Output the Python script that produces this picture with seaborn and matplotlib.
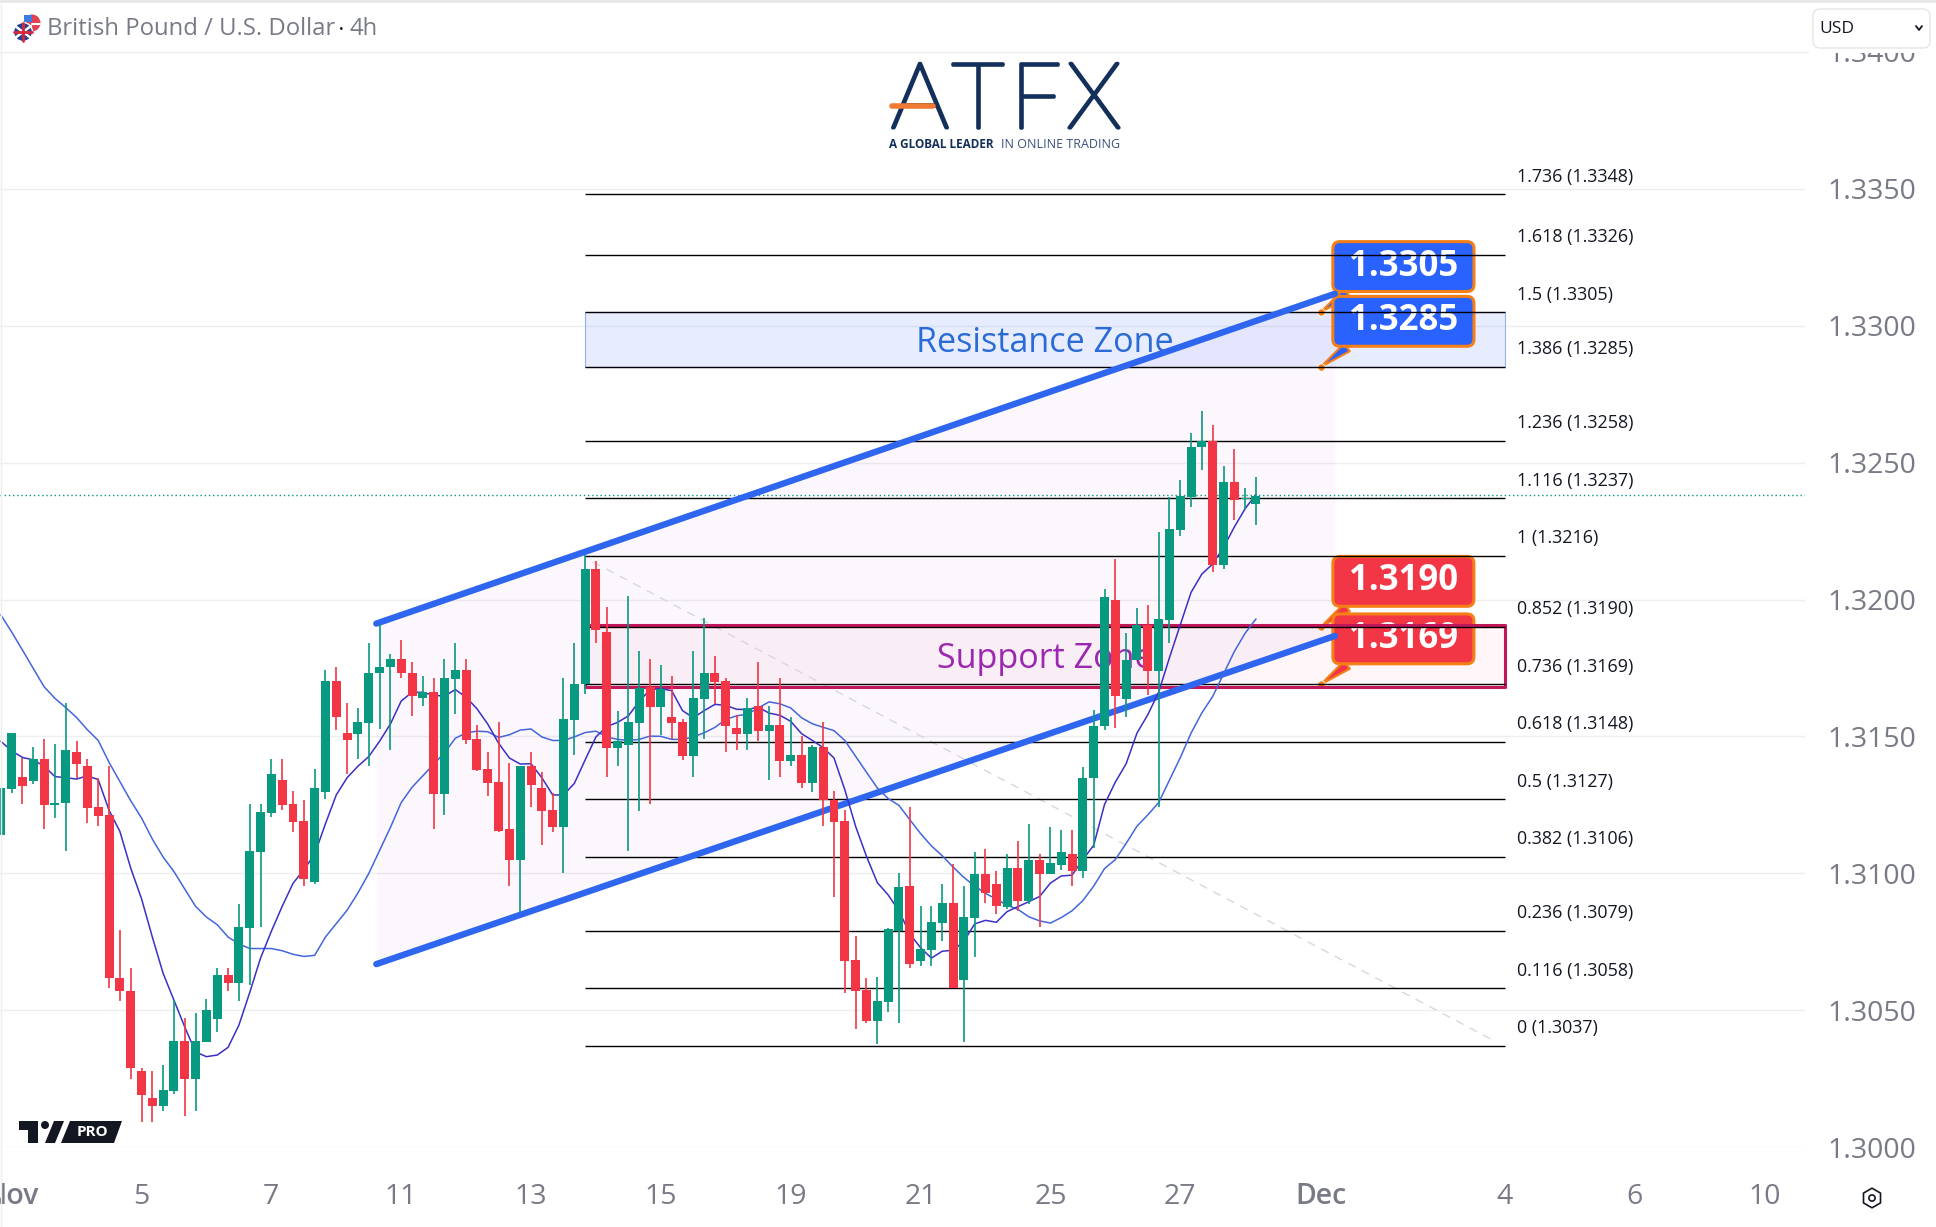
import matplotlib
matplotlib.use("Agg")
import matplotlib.patheffects as pe
import matplotlib.pyplot as plt
import pandas as pd
import seaborn as sns
from matplotlib.lines import Line2D
from matplotlib.patches import Circle, FancyBboxPatch, Polygon, Rectangle

# 4h candles, one entry per bar
body_top = [
    1.31311, 1.31513, 1.31351, 1.31419, 1.31419, 1.31258, 1.31450, 1.31442, 1.31392, 1.31241,
    1.31212, 1.30619, 1.30571, 1.30279, 1.30180, 1.30209, 1.30388, 1.30388, 1.30388, 1.30501,
    1.30630, 1.30630, 1.30802, 1.31080, 1.31223, 1.31363, 1.31340, 1.31252, 1.31190, 1.31311,
    1.31703, 1.31703, 1.31513, 1.31553, 1.31732, 1.31753, 1.31783, 1.31783, 1.31732, 1.31662,
    1.31662, 1.31713, 1.31742, 1.31742, 1.31490, 1.31381, 1.31333, 1.31162, 1.31391, 1.31391,
    1.31310, 1.31231, 1.31562, 1.31691, 1.32113, 1.32113, 1.31881, 1.31482, 1.31553, 1.31677,
    1.31680, 1.31674, 1.31569, 1.31553, 1.31640, 1.31731, 1.31731, 1.31701, 1.31531, 1.31604,
    1.31610, 1.31540, 1.31541, 1.31431, 1.31431, 1.31460, 1.31460, 1.31269, 1.31190, 1.30682,
    1.30572, 1.30532, 1.30795, 1.30951, 1.30953, 1.30722, 1.30821, 1.30891, 1.30890, 1.30841,
    1.30997, 1.30997, 1.30959, 1.31020, 1.31020, 1.31050, 1.31050, 1.31038, 1.31078, 1.31072,
    1.31348, 1.31538, 1.32009, 1.31999, 1.31778, 1.31908, 1.31908, 1.31930, 1.32257, 1.32378,
    1.32558, 1.32579, 1.32579, 1.32431, 1.32431, 1.32369, 1.32379,
]
body_bottom = [
    1.31139, 1.31307, 1.31318, 1.31336, 1.31251, 1.31251, 1.31258, 1.31399, 1.31239, 1.31209,
    1.30616, 1.30569, 1.30287, 1.30189, 1.30148, 1.30148, 1.30206, 1.30248, 1.30248, 1.30385,
    1.30466, 1.30598, 1.30598, 1.30799, 1.31078, 1.31220, 1.31251, 1.31188, 1.30979, 1.30968,
    1.31297, 1.31569, 1.31487, 1.31508, 1.31550, 1.31730, 1.31752, 1.31730, 1.31648, 1.31639,
    1.31290, 1.31290, 1.31711, 1.31487, 1.31377, 1.31330, 1.31155, 1.31049, 1.31049, 1.31321,
    1.31228, 1.31168, 1.31168, 1.31560, 1.31690, 1.31890, 1.31459, 1.31459, 1.31469, 1.31550,
    1.31608, 1.31608, 1.31550, 1.31430, 1.31430, 1.31637, 1.31700, 1.31539, 1.31509, 1.31509,
    1.31521, 1.31521, 1.31410, 1.31410, 1.31331, 1.31331, 1.31267, 1.31189, 1.30680, 1.30571,
    1.30460, 1.30460, 1.30529, 1.30790, 1.30669, 1.30680, 1.30721, 1.30818, 1.30580, 1.30610,
    1.30838, 1.30927, 1.30881, 1.30878, 1.30897, 1.30897, 1.30997, 1.30997, 1.31030, 1.31008,
    1.31008, 1.31348, 1.31537, 1.31647, 1.31635, 1.31778, 1.31738, 1.31738, 1.31926, 1.32255,
    1.32376, 1.32557, 1.32127, 1.32127, 1.32364, 1.32366, 1.32348,
]
wick_high = [
    1.31311, 1.31513, 1.31422, 1.31461, 1.31489, 1.31472, 1.31622, 1.31482, 1.31419, 1.31349,
    1.31391, 1.30791, 1.30653, 1.30288, 1.30277, 1.30301, 1.30536, 1.30470, 1.30491, 1.30539,
    1.30653, 1.30653, 1.30889, 1.31252, 1.31252, 1.31419, 1.31419, 1.31300, 1.31269, 1.31380,
    1.31741, 1.31752, 1.31622, 1.31604, 1.31842, 1.31909, 1.31801, 1.31853, 1.31772, 1.31720,
    1.31713, 1.31783, 1.31842, 1.31783, 1.31541, 1.31442, 1.31552, 1.31401, 1.31391, 1.31442,
    1.31369, 1.31292, 1.31713, 1.31841, 1.32162, 1.32141, 1.31972, 1.31592, 1.32013, 1.31812,
    1.31782, 1.31760, 1.31719, 1.31562, 1.31812, 1.31931, 1.31792, 1.31712, 1.31577, 1.31639,
    1.31771, 1.31610, 1.31713, 1.31571, 1.31501, 1.31470, 1.31551, 1.31299, 1.31231, 1.30771,
    1.30619, 1.30621, 1.30801, 1.31000, 1.31241, 1.30882, 1.30882, 1.30959, 1.31035, 1.30953,
    1.31079, 1.31090, 1.31010, 1.31072, 1.31119, 1.31181, 1.31072, 1.31169, 1.31158, 1.31158,
    1.31388, 1.31598, 1.32038, 1.32148, 1.31877, 1.31969, 1.31981, 1.32247, 1.32376, 1.32436,
    1.32610, 1.32689, 1.32637, 1.32488, 1.32548, 1.32409, 1.32448,
]
wick_low = [
    1.31139, 1.31293, 1.31253, 1.31325, 1.31162, 1.31202, 1.31080, 1.31349, 1.31183, 1.31174,
    1.30581, 1.30532, 1.30249, 1.30090, 1.30090, 1.30130, 1.30193, 1.30113, 1.30130, 1.30382,
    1.30421, 1.30571, 1.30532, 1.30592, 1.30802, 1.31204, 1.31232, 1.31150, 1.30954, 1.30961,
    1.31272, 1.31524, 1.31363, 1.31419, 1.31393, 1.31527, 1.31451, 1.31713, 1.31573, 1.31611,
    1.31162, 1.31213, 1.31583, 1.31472, 1.31374, 1.31283, 1.31150, 1.30955, 1.30857, 1.31241,
    1.31104, 1.31151, 1.31001, 1.31433, 1.31654, 1.31841, 1.31353, 1.31392, 1.31083, 1.31226,
    1.31254, 1.31504, 1.31491, 1.31414, 1.31353, 1.31491, 1.31617, 1.31444, 1.31450, 1.31450,
    1.31482, 1.31341, 1.31353, 1.31392, 1.31310, 1.31295, 1.31173, 1.30914, 1.30564, 1.30431,
    1.30453, 1.30376, 1.30494, 1.30453, 1.30654, 1.30662, 1.30662, 1.30751, 1.30580, 1.30382,
    1.30695, 1.30890, 1.30851, 1.30871, 1.30863, 1.30886, 1.30803, 1.30997, 1.31012, 1.30952,
    1.30982, 1.31091, 1.31524, 1.31531, 1.31569, 1.31778, 1.31650, 1.31243, 1.31840, 1.32232,
    1.32339, 1.32473, 1.32100, 1.32111, 1.32290, 1.32332, 1.32272,
]
# G = close above open, R = close below open
directions = list(
    "GGRGRGGRRR" "RRRRRGGRGG" "GRGGGGRRRG" "GRRGGGGRRG" "RGGRRRRRGR"
    "RRGGGRRGGG" "RGRRGGRRRG" "RGRGRGRRRR" "RGGGRGGGRG" "GRRGRGRGGR"
    "GGGRGGRGGG" "GGRGRGG"
)

ma_fast = [
    1.31482, 1.31447, 1.31423, 1.31414, 1.31391, 1.31353, 1.31349, 1.31344, 1.31356, 1.31342,
    1.31230, 1.31153, 1.31019, 1.30907, 1.30767, 1.30634, 1.30536, 1.30438, 1.30347, 1.30330,
    1.30336, 1.30364, 1.30445, 1.30564, 1.30690, 1.30788, 1.30879, 1.30963, 1.31013, 1.31069,
    1.31181, 1.31286, 1.31349, 1.31391, 1.31426, 1.31482, 1.31545, 1.31629, 1.31661, 1.31661,
    1.31650, 1.31647, 1.31671, 1.31643, 1.31601, 1.31545, 1.31475, 1.31421, 1.31399, 1.31400,
    1.31349, 1.31286, 1.31286, 1.31328, 1.31414, 1.31498, 1.31536, 1.31551, 1.31575, 1.31628,
    1.31671, 1.31674, 1.31667, 1.31594, 1.31568, 1.31594, 1.31617, 1.31613, 1.31599, 1.31598,
    1.31607, 1.31585, 1.31577, 1.31555, 1.31510, 1.31485, 1.31459, 1.31421, 1.31305, 1.31171,
    1.31062, 1.30966, 1.30921, 1.30863, 1.30779, 1.30728, 1.30690, 1.30715, 1.30719, 1.30751,
    1.30815, 1.30828, 1.30821, 1.30860, 1.30878, 1.30896, 1.30915, 1.30964, 1.30990, 1.30993,
    1.31050, 1.31102, 1.31251, 1.31333, 1.31400, 1.31512, 1.31579, 1.31661, 1.31787, 1.31907,
    1.32026, 1.32093, 1.32130, 1.32190, 1.32265, 1.32332, 1.32384,
]
ma_slow = [
    1.31944, 1.31881, 1.31815, 1.31748, 1.31681, 1.31639, 1.31605, 1.31569, 1.31524, 1.31485,
    1.31405, 1.31335, 1.31265, 1.31202, 1.31125, 1.31059, 1.31006, 1.30942, 1.30879, 1.30840,
    1.30812, 1.30767, 1.30742, 1.30725, 1.30725, 1.30725, 1.30717, 1.30704, 1.30696, 1.30700,
    1.30767, 1.30816, 1.30865, 1.30928, 1.30999, 1.31083, 1.31167, 1.31258, 1.31314, 1.31356,
    1.31398, 1.31440, 1.31493, 1.31513, 1.31519, 1.31517, 1.31496, 1.31506, 1.31523, 1.31527,
    1.31498, 1.31485, 1.31485, 1.31498, 1.31514, 1.31519, 1.31498, 1.31489, 1.31485, 1.31489,
    1.31501, 1.31500, 1.31489, 1.31489, 1.31498, 1.31513, 1.31533, 1.31562, 1.31575, 1.31581,
    1.31604, 1.31626, 1.31619, 1.31604, 1.31568, 1.31546, 1.31533, 1.31521, 1.31485, 1.31427,
    1.31369, 1.31312, 1.31273, 1.31248, 1.31196, 1.31145, 1.31100, 1.31064, 1.31023, 1.30985,
    1.30953, 1.30927, 1.30905, 1.30883, 1.30868, 1.30841, 1.30826, 1.30818, 1.30838, 1.30863,
    1.30900, 1.30953, 1.31017, 1.31050, 1.31109, 1.31172, 1.31213, 1.31258, 1.31340, 1.31422,
    1.31512, 1.31586, 1.31646, 1.31728, 1.31810, 1.31877, 1.31929,
]

fib_ratios = ["1.736", "1.618", "1.5", "1.386", "1.236", "1.116", "1", "0.852", "0.736",
              "0.618", "0.5", "0.382", "0.236", "0.116", "0"]
fib_prices = [1.3348, 1.3326, 1.3305, 1.3285, 1.3258, 1.3237, 1.3216, 1.3190, 1.3169,
              1.3148, 1.3127, 1.3106, 1.3079, 1.3058, 1.3037]

y_ticks = [1.3000, 1.3050, 1.3100, 1.3150, 1.3200, 1.3250, 1.3300, 1.3350, 1.3400]
x_tick_bars = [1, 13, 25, 37, 49, 61, 73, 85, 97, 109, 122, 139, 151, 163]
x_tick_labels = ["Nov", "5", "7", "11", "13", "15", "19", "21", "25", "27", "Dec", "4", "6", "10"]

channel_x = [34.7, 123.3]
channel_upper = [1.31912, 1.33117]
channel_lower = [1.30668, 1.31867]
drawing_x = [54, 139]
diagonal_x = [54.7, 138]
diagonal_y = [1.32138, 1.30388]
resistance_zone = [1.3285, 1.3305]
support_zone = [1.3168, 1.31908]
last_price = 1.32381
callout_bar = 122
callout_prices = [1.3305, 1.3285, 1.3190, 1.3169]

GREEN = "#089981"
RED = "#f23645"
BLUE = "#2962ff"
ORANGE = "#f57f17"
GREY = "#787b86"
NAVY = "#14305a"
PX = 0.72  # points per pixel at dpi 100

sns.set_theme(style="white")
plt.rcParams["font.family"] = ["Open Sans", "DejaVu Sans"]

fig = plt.figure(figsize=(19.36, 12.27), dpi=100, facecolor="white")
ax = fig.add_axes([0, 1 - 1147 / 1227, 1805 / 1936, (1147 - 52) / 1227])

bars = pd.DataFrame({
    "bar": range(len(body_top)),
    "top": body_top,
    "bottom": body_bottom,
    "high": wick_high,
    "low": wick_low,
    "direction": directions,
})
bars["color"] = bars["direction"].map({"G": GREEN, "R": RED})

# zones and channel go under everything else
ax.fill_between(channel_x, channel_lower, channel_upper, color="#9c27b0", alpha=0.035, lw=0, zorder=1)
ax.fill_between(drawing_x, *resistance_zone, facecolor="#2962ff", alpha=0.11, lw=0, zorder=1.1)
ax.fill_between(drawing_x, *resistance_zone, facecolor="none", edgecolor="#90b4f0", lw=0.8, zorder=1.2)
ax.fill_between(drawing_x, *support_zone, facecolor="#e91e63", alpha=0.04, lw=0, zorder=1.1)
ax.fill_between(drawing_x, *support_zone, facecolor="none", edgecolor="#c2185b", lw=2.2, zorder=3.5)
ax.plot(diagonal_x, diagonal_y, color="#d8d8dc", lw=1, ls=(0, (6, 5)), zorder=1.5)
ax.axhline(last_price, color=GREEN, lw=1, ls=(0, (1, 2)), zorder=1.6)

for zone, name, color in [(resistance_zone, "Resistance Zone", "#2a6bd6"),
                          (support_zone, "Support Zone", "#9c27b0")]:
    ax.annotate(name, xy=(96.5, sum(zone) / 2), xytext=(0, -3.5 * PX), textcoords="offset points",
                color=color, fontsize=24.6, ha="center", va="center", zorder=2)

# callouts sit under the fib lines, as in the picture
callout_colors = [BLUE, BLUE, RED, RED]
for price, color in zip(callout_prices, callout_colors):
    ax.annotate(
        f" {price:.4f} ",
        xy=(callout_bar, price),
        xytext=(82.5 * PX, 45.5 * PX),
        textcoords="offset points",
        ha="center",
        va="center",
        color="white",
        fontsize=25,
        fontweight="bold",
        bbox=dict(boxstyle="round,pad=0.2,rounding_size=0.2", fc=color, ec=ORANGE, lw=2.2),
        arrowprops=dict(
            arrowstyle="wedge,tail_width=0.28,shrink_factor=0.5",
            fc=color,
            ec=ORANGE,
            lw=1.5,
            relpos=(0.14, 0),
            shrinkA=0,
            shrinkB=0,
        ),
        zorder=3,
    )
sns.scatterplot(x=[callout_bar] * 4, y=callout_prices, color=ORANGE, s=28,
                edgecolor="white", linewidth=0.6, zorder=3.2, ax=ax, legend=False)

ax.hlines(fib_prices, *drawing_x, color="black", lw=1, zorder=4)
for ratio, price in zip(fib_ratios, fib_prices):
    ax.annotate(f"{ratio} ({price:.4f})", xy=(140.1, price), xytext=(0, 17.5 * PX),
                textcoords="offset points", ha="left", va="center",
                color="#131722", fontsize=12.9)

for upper_lower in (channel_upper, channel_lower):
    ax.plot(channel_x, upper_lower, color="#2f66f0", lw=4.6, solid_capstyle="round", zorder=5)

ma_frame = pd.DataFrame({"bar": bars["bar"], "fast": ma_fast, "slow": ma_slow})
sns.lineplot(data=ma_frame, x="bar", y="slow", color="#4466dd", lw=1.1, zorder=6, ax=ax, errorbar=None)
sns.lineplot(data=ma_frame, x="bar", y="fast", color="#3a30c4", lw=1.1, zorder=6, ax=ax, errorbar=None)

ax.vlines(bars["bar"], bars["low"], bars["high"], colors=bars["color"], lw=1.2, zorder=7)
ax.bar(bars["bar"], bars["top"] - bars["bottom"], bottom=bars["bottom"], width=0.83,
       color=bars["color"], lw=0, zorder=8)

ax.set_xlim(-0.0786, 166.74)
ax.set_ylim(1.3000, 1.33999)
ax.set_xlabel("")
ax.set_ylabel("")
ax.set_yticks(y_ticks)
ax.set_yticklabels([f"{t:.4f}" for t in y_ticks])
ax.yaxis.tick_right()
ax.set_xticks(x_tick_bars)
ax.set_xticklabels(x_tick_labels)
ax.tick_params(axis="y", length=0, pad=22 * PX, labelsize=20.5, labelcolor=GREY)
ax.tick_params(axis="x", length=0, pad=35.5 * PX, labelsize=20.5, labelcolor=GREY)
for label in ax.get_xticklabels():
    if label.get_text() in ("Nov", "Dec"):
        label.set_fontweight("semibold")
ax.grid(axis="y", color="#eeeef0", lw=1)
ax.grid(axis="x", visible=False)
ax.set_axisbelow(True)
sns.despine(ax=ax, left=True, bottom=True, right=True, top=True)

# page furniture, drawn on an overlay measured in pixels
overlay = fig.add_axes([0, 0, 1, 1], facecolor="none")
overlay.set_xlim(0, 1936)
overlay.set_ylim(1227, 0)
overlay.axis("off")

overlay.add_patch(Rectangle((0, 0), 1936, 53, fc="white", ec="none"))
overlay.add_patch(Rectangle((0, 0), 1936, 3, fc="#e8e8ea", ec="none"))
overlay.add_line(Line2D([0, 1808], [52, 52], color="#eeeef0", lw=1))
overlay.add_line(Line2D([0.8, 0.8], [4, 1227], color="#eeeef0", lw=1))

# flags
overlay.add_patch(Circle((32, 23), 8.5, fc="#e04050", ec="none"))
overlay.add_patch(Rectangle((24, 15), 8, 7, fc="#3f7de0", ec="none"))
overlay.add_line(Line2D([32, 40], [24, 24], color="white", lw=1.5))
overlay.add_patch(Circle((23, 32), 9.5, fc="#27408f", ec="white", lw=1))
overlay.add_line(Line2D([15, 31], [26, 38], color="white", lw=1.8))
overlay.add_line(Line2D([15, 31], [38, 26], color="white", lw=1.8))
overlay.add_line(Line2D([14, 32], [32, 32], color="#d8283c", lw=2))
overlay.add_line(Line2D([23, 23], [23, 41], color="#d8283c", lw=2))

overlay.text(47, 29, "British Pound / U.S. Dollar", color=GREY, fontsize=17.2, va="center", ha="left")
overlay.text(341, 29, "•", color="#131722", fontsize=9, va="center", ha="center")
overlay.text(349, 29, "4h", color=GREY, fontsize=17.2, va="center", ha="left")

# USD selector
overlay.add_patch(FancyBboxPatch((1815, 11), 113, 35, boxstyle="round,pad=2,rounding_size=7",
                                 fc="white", ec="#e6e6e8", lw=1))
overlay.text(1819, 29, "USD", color="#131722", fontsize=12.5, va="center", ha="left")
overlay.add_line(Line2D([1916, 1919, 1922], [26, 30, 26], color="#131722", lw=1.3))

# ATFX logo, light letters thickened to the logo's rounded stroke
for letter, x_center in zip("ATFX", [920, 978, 1036, 1094]):
    overlay.text(x_center, 103, letter, color=NAVY, fontsize=66, family="Lato", weight="light",
                 ha="center", va="center",
                 path_effects=[pe.withStroke(linewidth=2.6, foreground=NAVY)])
overlay.add_line(Line2D([892, 933], [106, 106], color="#ee7a33", lw=4, solid_capstyle="round", zorder=5))
overlay.text(889, 145, "A GLOBAL LEADER", color=NAVY, fontsize=8.5, fontweight="bold", va="center", ha="left")
overlay.text(1001, 145, "IN ONLINE TRADING", color="#39507a", fontsize=9, va="center", ha="left")

# TV PRO badge
overlay.add_patch(Polygon([(19, 1121), (38, 1121), (38, 1143), (28, 1143), (28, 1130), (19, 1130)],
                          fc="#131722", ec="none"))
overlay.add_patch(Circle((45, 1125), 4, fc="#131722", ec="none"))
overlay.add_patch(Polygon([(45, 1143), (54, 1121), (64, 1121), (55, 1143)], fc="#131722", ec="none"))
overlay.add_patch(Polygon([(61, 1143), (70, 1121), (122, 1121), (114, 1143)], fc="#131722", ec="none"))
overlay.text(92, 1132, "PRO", color="white", fontsize=11, fontweight="bold", va="center", ha="center")

# settings gear
sns.scatterplot(x=[1872], y=[1198], marker="h", s=200, facecolor="none", edgecolor="#131722",
                linewidth=1.2, ax=overlay, legend=False)
sns.scatterplot(x=[1872], y=[1198], marker="o", s=20, facecolor="none", edgecolor="#131722",
                linewidth=1.2, ax=overlay, legend=False)
overlay.set_xlim(0, 1936)
overlay.set_ylim(1227, 0)
overlay.set_xlabel("")
overlay.set_ylabel("")

fig.savefig("out.png", dpi=100, facecolor="white")
